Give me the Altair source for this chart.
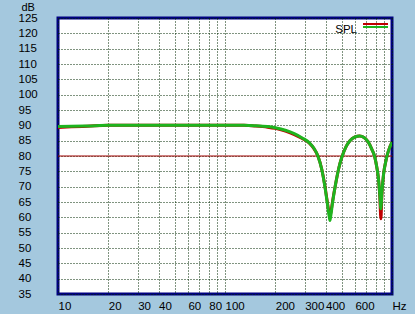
import altair as alt
import pandas as pd

# ---- data ----
freq = [10, 12, 15, 20, 30, 50, 80, 100, 130, 150, 180, 200, 230, 260, 290, 320, 340,
        360, 380, 395, 410, 420, 425, 430, 440, 460, 480, 500, 530, 560, 600, 640, 680,
        720, 760, 790, 810, 830, 845, 858, 870, 890, 920, 950, 1000]
spl_green = [89.6, 89.7, 89.8, 90.0, 90.0, 90.0, 90.0, 90.0, 90.0, 89.9, 89.6, 89.2, 88.4,
             87.3, 85.9, 84.3, 82.6, 80.0, 75.5, 70.5, 64.5, 60.5, 59.0, 60.5, 64.5, 71.0,
             76.0, 79.5, 83.0, 85.0, 86.2, 86.5, 86.0, 84.6, 82.0, 79.5, 76.5, 72.5, 67.5,
             62.8, 68.0, 74.0, 78.5, 81.5, 84.5]
spl_red = [89.3, 89.5, 89.7, 90.0, 90.0, 90.0, 90.0, 90.0, 90.0, 89.8, 89.4, 89.0, 88.1,
           87.0, 85.7, 84.2, 82.5, 80.0, 75.6, 70.8, 65.0, 61.5, 60.6, 61.5, 65.0, 71.0,
           76.0, 79.5, 83.0, 85.0, 86.2, 86.5, 86.0, 84.6, 82.0, 79.5, 76.5, 72.5, 67.0,
           59.5, 67.5, 74.0, 78.5, 81.5, 84.5]
ref_level = [80]
x_ticks = [10, 20, 30, 40, 50, 60, 70, 80, 90, 100, 200, 300, 400, 500, 600, 700, 800, 900, 1000]
x_labelled = [10, 20, 30, 40, 60, 80, 100, 200, 300, 400, 600]
y_ticks = list(range(35, 126, 5))
legend_label = "SPL"

BG = "#A4C8DE"
GRID = "#002800"
RED = "#C00000"
GREEN = "#1EB41E"
FONT = "Liberation Sans"

df = pd.DataFrame({"f": freq + freq,
                   "v": spl_red + spl_green,
                   "s": ["red"] * len(freq) + ["green"] * len(freq)})

label_expr = ("datum.value == 1000 ? 'Hz' : (indexof([" + ",".join(str(v) for v in x_labelled)
              + "], datum.value) >= 0 ? datum.label : '')")

xs = alt.Scale(type="log", domain=[10, 1000], nice=False)
ys = alt.Scale(domain=[35, 125], nice=False, zero=False)

x_axis = alt.Axis(values=x_ticks, labelExpr=label_expr, title=None, ticks=False, tickSize=0,
                  domain=False, grid=True, gridColor=GRID, gridDash=[1, 2], gridWidth=1,
                  gridOpacity=1, labelAlign="left", labelBaseline="top", labelPadding=6,
                  labelFlush=False, labelOverlap=False, labelFont=FONT, labelFontSize=11.5,
                  labelColor="black")
y_axis = alt.Axis(values=y_ticks, title="dB", ticks=False, tickSize=0, domain=False,
                  grid=True, gridColor=GRID, gridDash=[1, 2], gridWidth=1, gridOpacity=1,
                  labelAlign="left", labelBaseline="middle", labelPadding=40,
                  labelFont=FONT, labelFontSize=11.5, labelColor="black",
                  titleAngle=0, titleX=-37, titleY=-11, titleAlign="left",
                  titleBaseline="middle", titleFont=FONT, titleFontSize=11,
                  titleFontWeight="normal", titleColor="black", labelFlush=False,
                  labelOverlap=False)

X = alt.X("f:Q", scale=xs, axis=x_axis)
Y = alt.Y("v:Q", scale=ys, axis=y_axis)

base = alt.Chart(df)

red_line = base.transform_filter(alt.datum.s == "red").mark_line(
    color=RED, strokeWidth=3, interpolate="monotone", clip=True).encode(x=X, y=Y)
green_line = base.transform_filter(alt.datum.s == "green").mark_line(
    color=GREEN, strokeWidth=3, interpolate="monotone", clip=True).encode(x=X, y=Y)

ref = alt.Chart(pd.DataFrame({"v": ref_level})).mark_rule(
    color="#A00000", strokeWidth=1).encode(y=Y)

leg_df = pd.DataFrame({"t": [legend_label]})
leg_text = alt.Chart(leg_df).mark_text(
    align="right", baseline="middle", font=FONT, fontSize=11.5, color="black").encode(
    text="t:N", x=alt.value(299), y=alt.value(12))
leg_red = alt.Chart(leg_df).mark_rule(
    color=RED, strokeWidth=2).encode(x=alt.value(305), x2=alt.value(330), y=alt.value(6))
leg_green = alt.Chart(leg_df).mark_rule(
    color=GREEN, strokeWidth=2).encode(x=alt.value(305), x2=alt.value(330), y=alt.value(9))

chart = alt.layer(red_line, ref, green_line, leg_text, leg_red, leg_green).properties(
    width=334, height=276,
    autosize=alt.AutoSizeParams(type="none"),
    padding={"left": 58, "top": 18, "right": 23, "bottom": 20},
    background=BG,
).configure_view(
    fill="white", stroke="#000080", strokeWidth=3
)

chart.save("out.html", embed_options={"renderer": "svg", "actions": False})
